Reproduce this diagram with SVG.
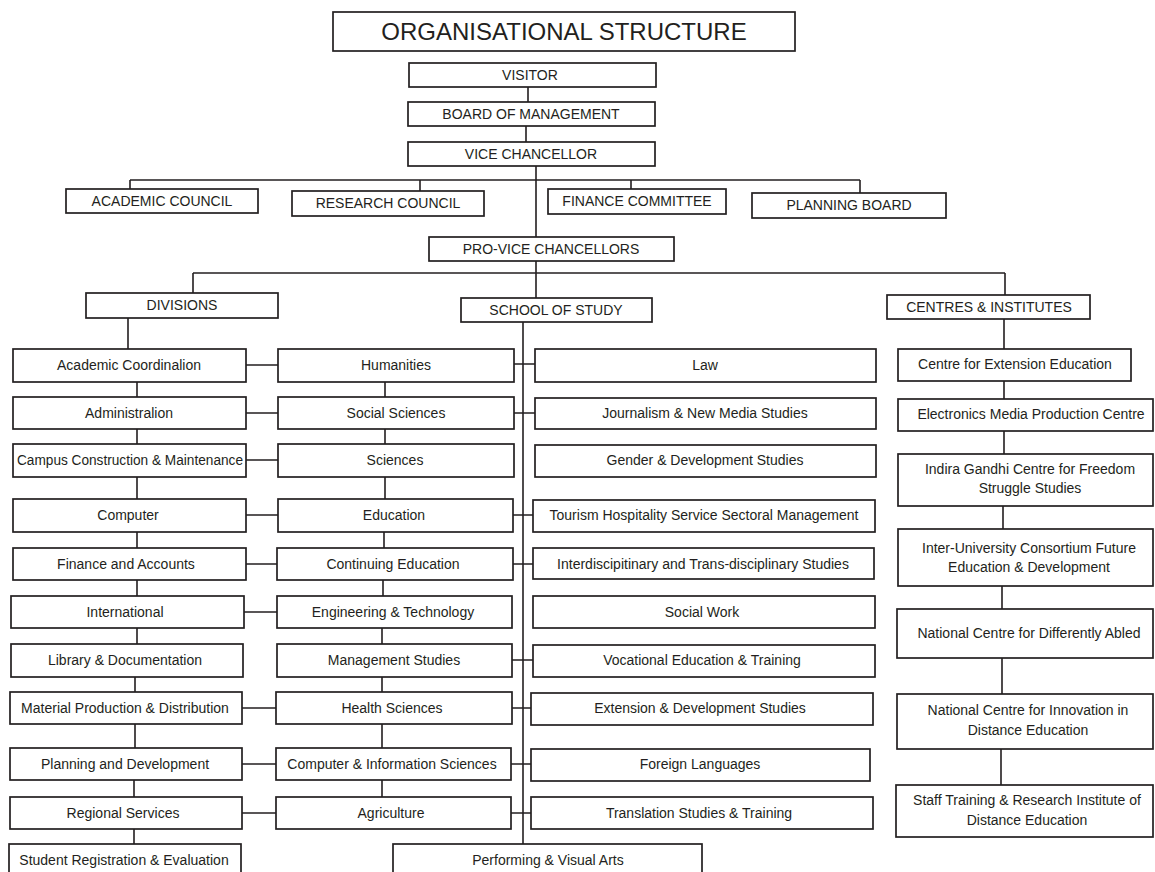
<svg xmlns="http://www.w3.org/2000/svg" width="1155" height="872" viewBox="0 0 1155 872">
<style>
rect{fill:#fff;stroke:#231f20;stroke-width:1.7}
text{font-family:"Liberation Sans",Arial,sans-serif;font-size:14px;fill:#231f20;text-anchor:middle}
.t{font-size:24px}
#connectors path{fill:none;stroke:#231f20;stroke-width:1.6}
</style>
<rect width="1155" height="872" style="fill:#fff;stroke:none"/>
<g id="connectors">
<path d="M528,87V102M526,126V142M536,166V237M130,180H860M130,180V189M420,180V191M631,180V189M860,180V193"/>
<path d="M536,261V298M193,273H1005M193,273V293M1005,273V295"/>
<path d="M128,318V349M137,382V397M137,429V444M137,477V499M137,532V548M137,580V596M137,628V644M135,677V692M135,724V748M134,780V797M134,829V844"/>
<path d="M385,382V397M385,429V444M385,477V499M384,532V548M383,580V596M382,628V644M382,677V692M382,724V748M382,780V797"/>
<path d="M246,365H278M246,413H278M246,460H278M246,515H278M246,564H277M244,612H277M242,708H276M242,764H276M242,813H276"/>
<path d="M523,322V844"/>
<path d="M514,364H535M514,413H535M513,515H533M513,564H533M512,660H533M512,708H531M511,764H531M511,813H531"/>
<path d="M1004,319V349M1004,381V399M1004,431V454M1003,506V529M1002,586V609M1002,658V694M1001,749V785"/>
</g>
<g id="title"><rect x="333" y="12" width="462" height="39"/><text class="t" x="564" y="40">ORGANISATIONAL STRUCTURE</text></g>
<g id="visitor"><rect x="409" y="63" width="247" height="24"/><text x="530" y="80">VISITOR</text></g>
<g id="board"><rect x="408" y="102" width="247" height="24"/><text x="531" y="119">BOARD OF MANAGEMENT</text></g>
<g id="vc"><rect x="408" y="142" width="247" height="24"/><text x="531" y="159">VICE CHANCELLOR</text></g>
<g id="academic-council"><rect x="66" y="189" width="192" height="24"/><text x="162" y="206">ACADEMIC COUNCIL</text></g>
<g id="research-council"><rect x="292" y="191" width="192" height="25"/><text x="388" y="208">RESEARCH COUNCIL</text></g>
<g id="finance-committee"><rect x="548" y="189" width="178" height="25"/><text x="637" y="206">FINANCE COMMITTEE</text></g>
<g id="planning-board"><rect x="752" y="193" width="194" height="25"/><text x="849" y="210">PLANNING BOARD</text></g>
<g id="pvc"><rect x="429" y="237" width="245" height="24"/><text x="551" y="254">PRO-VICE CHANCELLORS</text></g>
<g id="divisions"><rect x="86" y="293" width="192" height="25"/><text x="182" y="310">DIVISIONS</text></g>
<g id="school"><rect x="461" y="298" width="191" height="24"/><text x="556" y="315">SCHOOL OF STUDY</text></g>
<g id="centres"><rect x="887" y="295" width="203" height="24"/><text x="989" y="312">CENTRES &amp; INSTITUTES</text></g>

<g id="d1"><rect x="13" y="349" width="233" height="33"/><text x="129" y="370">Academic Coordinalion</text></g>
<g id="d2"><rect x="13" y="397" width="233" height="32"/><text x="129" y="418">Administralion</text></g>
<g id="d3"><rect x="13" y="444" width="233" height="33"/><text x="130" y="465" textLength="226" lengthAdjust="spacingAndGlyphs">Campus Construction &amp; Maintenance</text></g>
<g id="d4"><rect x="13" y="499" width="233" height="33"/><text x="128" y="520">Computer</text></g>
<g id="d5"><rect x="13" y="548" width="233" height="32"/><text x="126" y="569">Finance and Accounts</text></g>
<g id="d6"><rect x="11" y="596" width="233" height="32"/><text x="125" y="617">International</text></g>
<g id="d7"><rect x="11" y="644" width="232" height="33"/><text x="125" y="665">Library &amp; Documentation</text></g>
<g id="d8"><rect x="10" y="692" width="232" height="32"/><text x="125" y="713">Material Production &amp; Distribution</text></g>
<g id="d9"><rect x="10" y="748" width="232" height="32"/><text x="125" y="769">Planning and Development</text></g>
<g id="d10"><rect x="10" y="797" width="232" height="32"/><text x="123" y="818">Regional Services</text></g>
<g id="d11"><rect x="9" y="844" width="232" height="40"/><text x="124" y="865">Student Registration &amp; Evaluation</text></g>

<g id="m1"><rect x="278" y="349" width="236" height="33"/><text x="396" y="370">Humanities</text></g>
<g id="m2"><rect x="278" y="397" width="236" height="32"/><text x="396" y="418">Social Sciences</text></g>
<g id="m3"><rect x="278" y="444" width="236" height="33"/><text x="395" y="465">Sciences</text></g>
<g id="m4"><rect x="278" y="499" width="235" height="33"/><text x="394" y="520">Education</text></g>
<g id="m5"><rect x="277" y="548" width="236" height="32"/><text x="393" y="569">Continuing Education</text></g>
<g id="m6"><rect x="277" y="596" width="235" height="32"/><text x="393" y="617">Engineering &amp; Technology</text></g>
<g id="m7"><rect x="277" y="644" width="235" height="33"/><text x="394" y="665">Management Studies</text></g>
<g id="m8"><rect x="276" y="692" width="236" height="32"/><text x="392" y="713">Health Sciences</text></g>
<g id="m9"><rect x="276" y="748" width="235" height="32"/><text x="392" y="769">Computer &amp; Information Sciences</text></g>
<g id="m10"><rect x="276" y="797" width="235" height="32"/><text x="391" y="818">Agriculture</text></g>

<g id="s1"><rect x="535" y="349" width="341" height="33"/><text x="705" y="370">Law</text></g>
<g id="s2"><rect x="535" y="398" width="341" height="31"/><text x="705" y="418">Journalism &amp; New Media Studies</text></g>
<g id="s3"><rect x="535" y="445" width="341" height="32"/><text x="705" y="465">Gender &amp; Development Studies</text></g>
<g id="s4"><rect x="533" y="500" width="342" height="32"/><text x="704" y="520">Tourism Hospitality Service Sectoral Management</text></g>
<g id="s5"><rect x="533" y="548" width="341" height="31"/><text x="703" y="569">Interdiscipitinary and Trans-disciplinary Studies</text></g>
<g id="s6"><rect x="533" y="596" width="342" height="32"/><text x="702" y="617">Social Work</text></g>
<g id="s7"><rect x="533" y="645" width="342" height="32"/><text x="702" y="665">Vocational Education &amp; Training</text></g>
<g id="s8"><rect x="531" y="693" width="342" height="32"/><text x="700" y="713">Extension &amp; Development Studies</text></g>
<g id="s9"><rect x="531" y="749" width="339" height="32"/><text x="700" y="769">Foreign Languages</text></g>
<g id="s10"><rect x="531" y="797" width="342" height="32"/><text x="699" y="818">Translation Studies &amp; Training</text></g>
<g id="s11"><rect x="393" y="844" width="309" height="40"/><text x="548" y="865">Performing &amp; Visual Arts</text></g>

<g id="c1"><rect x="898" y="349" width="233" height="32"/><text x="1015" y="369">Centre for Extension Education</text></g>
<g id="c2"><rect x="898" y="399" width="255" height="32"/><text x="1031" y="419">Electronics Media Production Centre</text></g>
<g id="c3"><rect x="898" y="454" width="255" height="52"/><text x="1030" y="474">Indira Gandhi Centre for Freedom</text><text x="1030" y="493">Struggle Studies</text></g>
<g id="c4"><rect x="898" y="529" width="255" height="57"/><text x="1029" y="553">Inter-University Consortium Future</text><text x="1029" y="572">Education &amp; Development</text></g>
<g id="c5"><rect x="897" y="609" width="256" height="49"/><text x="1029" y="638">National Centre for Differently Abled</text></g>
<g id="c6"><rect x="897" y="694" width="256" height="55"/><text x="1028" y="715">National Centre for Innovation in</text><text x="1028" y="735">Distance Education</text></g>
<g id="c7"><rect x="896" y="785" width="257" height="52"/><text x="1027" y="805">Staff Training &amp; Research Institute of</text><text x="1027" y="825">Distance Education</text></g>
</svg>
